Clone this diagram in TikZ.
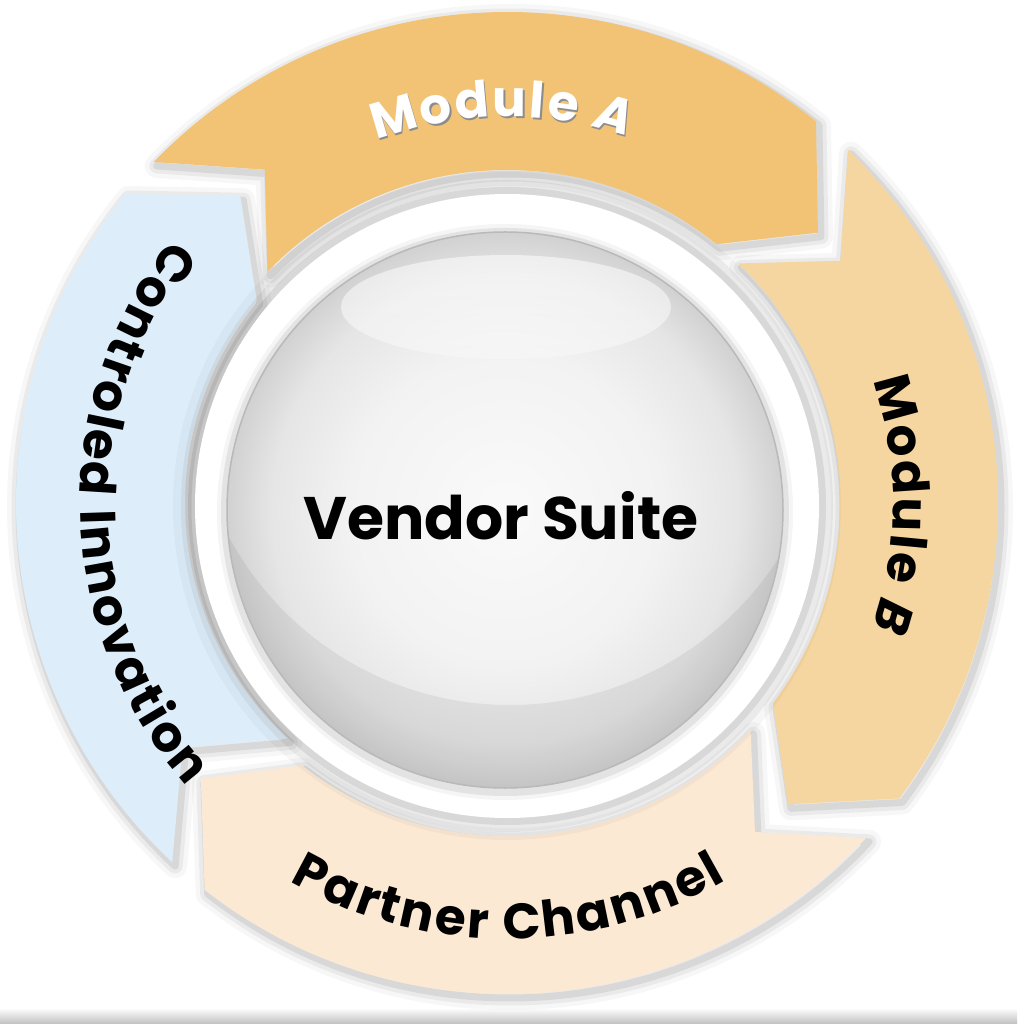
\documentclass[tikz,border=0pt]{standalone}
\usepackage{fontspec}
\setmainfont{Poppins}
\usetikzlibrary{decorations.text}

\definecolor{modA}{HTML}{F2C375}
\definecolor{modB}{HTML}{F6D6A0}
\definecolor{partner}{HTML}{FCE9D4}
\definecolor{innov}{HTML}{DDEEFA}

\pgfdeclareradialshading{ballshade}{\pgfpoint{0bp}{0bp}}{color(0bp)=(gray!4); color(14bp)=(gray!10); color(21bp)=(gray!20); color(25bp)=(gray!36); color(50bp)=(gray!36)}

\newcommand\lblfont{\fontsize{50}{56}\selectfont\bfseries\kern2.5pt}
% one band of the ring: tail angle, head angle, inner radius
\newcommand\ringseg[3]{(#1:491) arc[start angle=#1, end angle=#2, radius=491] -- ({#2-10}:{(491+#3)/2}) -- (#2:#3) arc[start angle=#2, end angle=#1, radius=#3] -- ({#1-10}:{(491+#3)/2}) -- cycle}

\tikzset{
	segshadow/.style={line width=#1, line join=round, black, shift={(3,-4)}},
	seglabel/.style={decorate, decoration={text along path, text align=center, text={#1}}}
}

\begin{document}
\begin{tikzpicture}[x=1pt,y=1pt]
	\useasboundingbox (-507,-521) rectangle (510,503);
	\shade[top color=white, bottom color=black!25] (-507,-521) rectangle (510,-505);

	% shadows
	\foreach \w/\op in {24/0.03,15/0.05,7/0.08} {
		\draw[segshadow=\w, opacity=\op] \ringseg{136}{51}{333};
		\draw[segshadow=\w, opacity=\op] \ringseg{46}{-37}{333};
		\draw[segshadow=\w, opacity=\op] \ringseg{-43}{-128}{333};
		\draw[segshadow=\w, opacity=\op] \ringseg{-133}{-219}{322};
	}

	\fill[modA] \ringseg{136}{51}{333};
	\fill[modB] \ringseg{46}{-37}{333};
	\fill[partner] \ringseg{-43}{-128}{333};
	\fill[innov] \ringseg{-133}{-219}{322};

	% halo
	\foreach \w/\op in {44/0.03,28/0.05,14/0.08}
		\draw[line width=\w, opacity=\op] (0,-3) circle (312);
	\fill[white] (0,-3) circle (312);

	% ball
	\foreach \w/\op in {16/0.04,8/0.07}
		\draw[line width=\w, opacity=\op] (-2,-9) circle (280);
	\shade[shading=ballshade] (-2,-7) circle (278);
	\begin{scope}
		\clip (-2,-7) circle (278);
		\fill[black, opacity=0.06, even odd rule] (-2,-7) circle (278) (3,117) circle (319);
	\end{scope}
	\shade[top color=white, bottom color=gray!5, opacity=0.55] (-1,196) ellipse [x radius=165, y radius=52];
	\draw[gray!55, line width=1.5] (-2,-7) circle (278);

	\node[font=\fontsize{60}{66}\selectfont\bfseries] (suite) at (-6,-13) {Vendor Suite};

	% labels
	\path[seglabel={|\lblfont\color{black!45}|Module |\lblfont\itshape\color{black!45}|A}, shift={(1.5,-2)}] (135:386) arc[start angle=135, end angle=47, radius=386];
	\path[seglabel={|\lblfont\color{white}|Module |\lblfont\itshape\color{white}|A}] (135:386) arc[start angle=135, end angle=47, radius=386];
	\path[seglabel={|\lblfont|Module |\lblfont\itshape|B}] (45:386) arc[start angle=45, end angle=-45, radius=386];
	\path[seglabel={|\lblfont|Partner Channel}] (-150:436) arc[start angle=-150, end angle=-30, radius=436];
	\path[seglabel={|\lblfont|Controled Innovation}] (125:427) arc[start angle=125, end angle=238, radius=427];
\end{tikzpicture}
\end{document}
